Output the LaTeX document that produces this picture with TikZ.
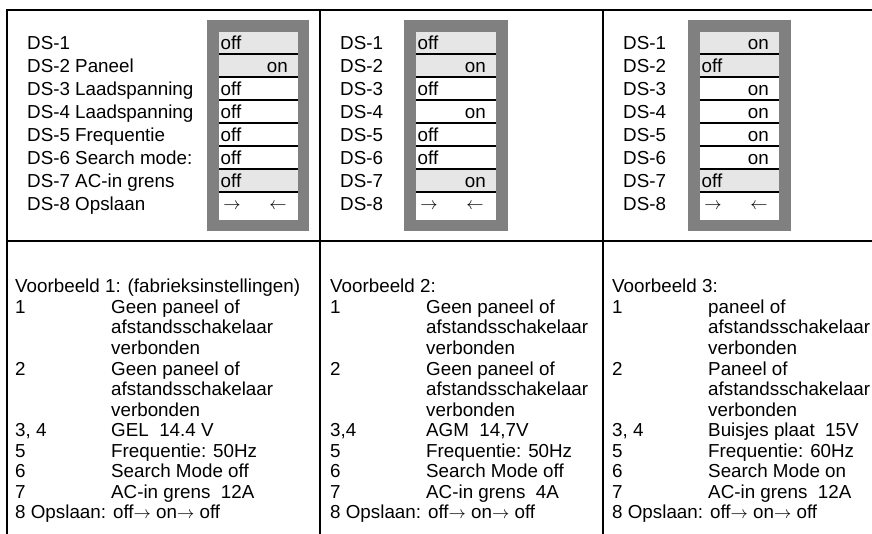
\documentclass[tikz,border=0pt]{standalone}
\usepackage{fontspec}
\setmainfont{Liberation Sans}
\usetikzlibrary{positioning}
\definecolor{housinggray}{HTML}{808080}
\definecolor{litrow}{HTML}{E6E6E6}
\newcommand{\stepto}{$\rightarrow$\ }
\tikzset{every node/.style={inner sep=0pt, font=\fontsize{18.8}{20}\selectfont},
  frameline/.style={black, line width=2pt},
  housing/.style={fill=housinggray},
  sepline/.style={black, line width=1.5pt},
  lbl/.style={anchor=base west},
  offtxt/.style={anchor=base west},
  ontxt/.style={anchor=base east},
  arr/.style={anchor=center, font=\fontsize{18}{20}\selectfont}}

\begin{document}
\begin{tikzpicture}[x=1pt,y=-1pt]
  \useasboundingbox (0,0) rectangle (872,534);

  \fill[housing] (207,20) rectangle (309,231);
  \fill[white] (219,32) rectangle (298,220);
  \fill[litrow] (219,32) rectangle (298,77);
  \fill[litrow] (219,169) rectangle (298,192);
  \foreach \y in {54,77,100,123,146,169,192} \draw[sepline] (219,\y) -- (298,\y);

  \fill[housing] (404,20) rectangle (508,231);
  \fill[white] (416,32) rectangle (496,220);
  \fill[litrow] (416,32) rectangle (496,77);
  \fill[litrow] (416,169) rectangle (496,192);
  \foreach \y in {54,77,100,123,146,169,192} \draw[sepline] (416,\y) -- (496,\y);

  \fill[housing] (688,20) rectangle (791,231);
  \fill[white] (700,32) rectangle (779,220);
  \fill[litrow] (700,32) rectangle (779,77);
  \fill[litrow] (700,169) rectangle (779,192);
  \foreach \y in {54,77,100,123,146,169,192} \draw[sepline] (700,\y) -- (779,\y);

  \node[lbl] (ads1) at (27,49.5)  {DS-1};
  \node[lbl] (ads2) at (27,72.5)  {DS-2 Paneel};
  \node[lbl] (ads3) at (27,95.5)  {DS-3 Laadspanning};
  \node[lbl] (ads4) at (27,118.5) {DS-4 Laadspanning};
  \node[lbl] (ads5) at (27,141.5) {DS-5 Frequentie};
  \node[lbl] (ads6) at (27,164.5) {DS-6 Search mode:};
  \node[lbl] (ads7) at (27,187.5) {DS-7 AC-in grens};
  \node[lbl] (ads8) at (27,210.5) {DS-8 Opslaan};

  \node[offtxt] (asw1) at (220.5,49.5)  {off};
  \node[ontxt]  (asw2) at (288,72.5)    {on};
  \node[offtxt] (asw3) at (220.5,95.5)  {off};
  \node[offtxt] (asw4) at (220.5,118.5) {off};
  \node[offtxt] (asw5) at (220.5,141.5) {off};
  \node[offtxt] (asw6) at (220.5,164.5) {off};
  \node[offtxt] (asw7) at (220.5,187.5) {off};
  \node[arr] (arin)  at (232,206) {$\rightarrow$};
  \node[arr] (arout) at (278,206) {$\leftarrow$};

  \node[lbl] (bds1) at (340,49.5)  {DS-1};
  \node[lbl] (bds2) at (340,72.5)  {DS-2};
  \node[lbl] (bds3) at (340,95.5)  {DS-3};
  \node[lbl] (bds4) at (340,118.5) {DS-4};
  \node[lbl] (bds5) at (340,141.5) {DS-5};
  \node[lbl] (bds6) at (340,164.5) {DS-6};
  \node[lbl] (bds7) at (340,187.5) {DS-7};
  \node[lbl] (bds8) at (340,210.5) {DS-8};

  \node[offtxt] (bsw1) at (417.5,49.5)  {off};
  \node[ontxt]  (bsw2) at (486,72.5)    {on};
  \node[offtxt] (bsw3) at (417.5,95.5)  {off};
  \node[ontxt]  (bsw4) at (486,118.5)   {on};
  \node[offtxt] (bsw5) at (417.5,141.5) {off};
  \node[offtxt] (bsw6) at (417.5,164.5) {off};
  \node[ontxt]  (bsw7) at (486,187.5)   {on};
  \node[arr] (brin)  at (429,206) {$\rightarrow$};
  \node[arr] (brout) at (475,206) {$\leftarrow$};

  \node[lbl] (cds1) at (623,49.5)  {DS-1};
  \node[lbl] (cds2) at (623,72.5)  {DS-2};
  \node[lbl] (cds3) at (623,95.5)  {DS-3};
  \node[lbl] (cds4) at (623,118.5) {DS-4};
  \node[lbl] (cds5) at (623,141.5) {DS-5};
  \node[lbl] (cds6) at (623,164.5) {DS-6};
  \node[lbl] (cds7) at (623,187.5) {DS-7};
  \node[lbl] (cds8) at (623,210.5) {DS-8};

  \node[ontxt]  (csw1) at (769,49.5)    {on};
  \node[offtxt] (csw2) at (701.5,72.5)  {off};
  \node[ontxt]  (csw3) at (769,95.5)    {on};
  \node[ontxt]  (csw4) at (769,118.5)   {on};
  \node[ontxt]  (csw5) at (769,141.5)   {on};
  \node[ontxt]  (csw6) at (769,164.5)   {on};
  \node[offtxt] (csw7) at (701.5,187.5) {off};
  \node[arr] (crin)  at (713,206) {$\rightarrow$};
  \node[arr] (crout) at (759,206) {$\leftarrow$};

  \node[lbl] (ahead) at (15,293)   {Voorbeeld 1: (fabrieksinstellingen)};
  \node[lbl] (an1)   at (15,313.5) {1};
  \node[lbl] (at1)   at (111,313.5) {Geen paneel of};
  \node[lbl] (at1b)  at (111,334)  {afstandsschakelaar};
  \node[lbl] (at1c)  at (111,354.5) {verbonden};
  \node[lbl] (an2)   at (15,375)   {2};
  \node[lbl] (at2)   at (111,375)  {Geen paneel of};
  \node[lbl] (at2b)  at (111,395.5) {afstandsschakelaar};
  \node[lbl] (at2c)  at (111,416)  {verbonden};
  \node[lbl] (an34)  at (15,436.5) {3, 4};
  \node[lbl] (at34)  at (111,436.5) {GEL\ \ 14.4 V};
  \node[lbl] (an5)   at (15,457)   {5};
  \node[lbl] (at5)   at (111,457)  {Frequentie: 50Hz};
  \node[lbl] (an6)   at (15,477.5) {6};
  \node[lbl] (at6)   at (111,477.5) {Search Mode off};
  \node[lbl] (an7)   at (15,498)   {7};
  \node[lbl] (at7)   at (111,498)  {AC-in grens\ \ 12A};
  \node[lbl] (an8)   at (15,518.5) {8 Opslaan: off\stepto on\stepto off};

  \node[lbl] (bhead) at (330,293)   {Voorbeeld 2:};
  \node[lbl] (bn1)   at (330,313.5) {1};
  \node[lbl] (bt1)   at (426,313.5) {Geen paneel of};
  \node[lbl] (bt1b)  at (426,334)   {afstandsschakelaar};
  \node[lbl] (bt1c)  at (426,354.5) {verbonden};
  \node[lbl] (bn2)   at (330,375)   {2};
  \node[lbl] (bt2)   at (426,375)   {Geen paneel of};
  \node[lbl] (bt2b)  at (426,395.5) {afstandsschakelaar};
  \node[lbl] (bt2c)  at (426,416)   {verbonden};
  \node[lbl] (bn34)  at (330,436.5) {3,4};
  \node[lbl] (bt34)  at (426,436.5) {AGM\ \ 14,7V};
  \node[lbl] (bn5)   at (330,457)   {5};
  \node[lbl] (bt5)   at (426,457)   {Frequentie: 50Hz};
  \node[lbl] (bn6)   at (330,477.5) {6};
  \node[lbl] (bt6)   at (426,477.5) {Search Mode off};
  \node[lbl] (bn7)   at (330,498)   {7};
  \node[lbl] (bt7)   at (426,498)   {AC-in grens\ \ 4A};
  \node[lbl] (bn8)   at (330,518.5) {8 Opslaan: off\stepto on\stepto off};

  \node[lbl] (chead) at (612,293)   {Voorbeeld 3:};
  \node[lbl] (cn1)   at (612,313.5) {1};
  \node[lbl] (ct1)   at (708,313.5) {paneel of};
  \node[lbl] (ct1b)  at (708,334)   {afstandsschakelaar};
  \node[lbl] (ct1c)  at (708,354.5) {verbonden};
  \node[lbl] (cn2)   at (612,375)   {2};
  \node[lbl] (ct2)   at (708,375)   {Paneel of};
  \node[lbl] (ct2b)  at (708,395.5) {afstandsschakelaar};
  \node[lbl] (ct2c)  at (708,416)   {verbonden};
  \node[lbl] (cn34)  at (612,436.5) {3, 4};
  \node[lbl] (ct34)  at (708,436.5) {Buisjes plaat\ \ 15V};
  \node[lbl] (cn5)   at (612,457)   {5};
  \node[lbl] (ct5)   at (708,457)   {Frequentie: 60Hz};
  \node[lbl] (cn6)   at (612,477.5) {6};
  \node[lbl] (ct6)   at (708,477.5) {Search Mode on};
  \node[lbl] (cn7)   at (612,498)   {7};
  \node[lbl] (ct7)   at (708,498)   {AC-in grens\ \ 12A};
  \node[lbl] (cn8)   at (612,518.5) {8 Opslaan: off\stepto on\stepto off};

  \draw[frameline] (872,10) -- (7,10) -- (7,534);
  \draw[frameline] (320,10) -- (320,534);
  \draw[frameline] (603,10) -- (603,534);
  \draw[frameline] (7,241) -- (872,241);
\end{tikzpicture}
\end{document}
